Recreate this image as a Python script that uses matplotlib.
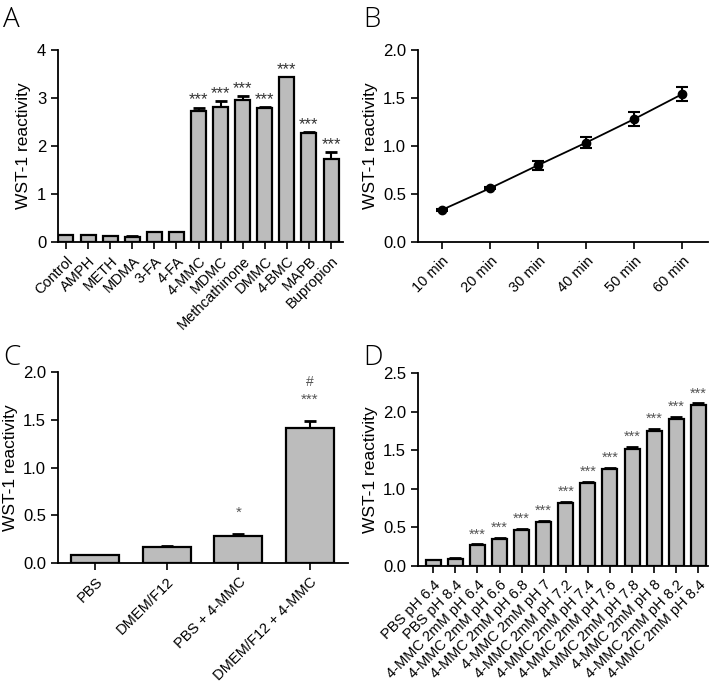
import numpy as np
import matplotlib.pyplot as plt

plt.rcParams['font.family'] = ['Liberation Sans', 'DejaVu Sans']

# Panel A
a_labels = ['Control', 'AMPH', 'METH', 'MDMA', '3-FA', '4-FA', '4-MMC', 'MDMC',
            'Methcathinone', 'DMMC', '4-BMC', 'MAPB', 'Bupropion']
a_values = [0.15, 0.15, 0.13, 0.11, 0.21, 0.21, 2.73, 2.81, 2.95, 2.79, 3.43, 2.28, 1.73]
a_errors = [0.005, 0.005, 0.005, 0.005, 0.005, 0.005, 0.07, 0.13, 0.09, 0.02, 0.01, 0.01, 0.14]
a_marks = ['', '', '', '', '', '', '***', '***', '***', '***', '***', '***', '***']

# Panel B
b_minutes = [10, 20, 30, 40, 50, 60]
b_labels = ['10 min', '20 min', '30 min', '40 min', '50 min', '60 min']
b_values = [0.335, 0.56, 0.80, 1.035, 1.28, 1.54]
b_errors = [0.01, 0.01, 0.045, 0.057, 0.07, 0.073]

# Panel C
c_labels = ['PBS', 'DMEM/F12', 'PBS + 4-MMC', 'DMEM/F12 + 4-MMC']
c_values = [0.08, 0.17, 0.28, 1.41]
c_errors = [0.003, 0.003, 0.02, 0.075]
c_marks = ['', '', '*', '***']

# Panel D
d_labels = ['PBS pH 6.4', 'PBS pH 8.4', '4-MMC 2mM pH 6.4', '4-MMC 2mM pH 6.6',
            '4-MMC 2mM pH 6.8', '4-MMC 2mM pH 7', '4-MMC 2mM pH 7.2', '4-MMC 2mM pH 7.4',
            '4-MMC 2mM pH 7.6', '4-MMC 2mM pH 7.8', '4-MMC 2mM pH 8', '4-MMC 2mM pH 8.2',
            '4-MMC 2mM pH 8.4']
d_values = [0.075, 0.095, 0.27, 0.355, 0.47, 0.57, 0.82, 1.075, 1.255, 1.52, 1.755, 1.91, 2.085]
d_errors = [0.005, 0.005, 0.01, 0.01, 0.01, 0.01, 0.015, 0.015, 0.02, 0.025, 0.025, 0.02, 0.02]
d_marks = ['', ''] + ['***'] * 11

BAR = '#bcbcbc'


def style_axes(ax):
    for s in ['top', 'right']:
        ax.spines[s].set_visible(False)
    for s in ['left', 'bottom']:
        ax.spines[s].set_linewidth(1.3)
    ax.tick_params(direction='out', length=5, width=1.2)
    ax.tick_params(axis='y', labelsize=12)
    ax.tick_params(axis='x', labelsize=10.5)
    ax.set_ylabel('WST-1 reactivity', fontsize=12.5)


def bars(ax, labels, values, errors, marks, width, star_off, star_col, star_size):
    x = np.arange(len(values))
    ax.bar(x, values, width=width, color=BAR, edgecolor='black', linewidth=1.6, zorder=2)
    ax.errorbar(x, values, yerr=[np.zeros(len(errors)), errors], fmt='none',
                ecolor='black', elinewidth=1.5, capsize=4, capthick=2, zorder=1)
    for xi, v, e, m in zip(x, values, errors, marks):
        if m:
            ax.text(xi, v + e + star_off, m, ha='center', va='bottom',
                    fontsize=star_size, color=star_col)
    ax.set_xticks(x)
    ax.set_xticklabels(labels, rotation=45, ha='right', rotation_mode='anchor')
    return x


fig = plt.figure(figsize=(7.2, 6.89), dpi=100)
H = 689.0
W = 720.0


def add_ax(l, r, t, b):
    return fig.add_axes([l / W, 1 - b / H, (r - l) / W, (b - t) / H])


# A
ax = add_ax(58, 343, 50, 242)
bars(ax, a_labels, a_values, a_errors, a_marks, 0.68, 0.0, '#333333', 12)
ax.set_xlim(-0.36, 12.54)
ax.set_ylim(0, 4)
ax.set_yticks([0, 1, 2, 3, 4])
style_axes(ax)

# B
ax = add_ax(418, 708, 50, 242)
ax.errorbar(b_minutes, b_values, yerr=b_errors, fmt='o-', color='black', ms=6,
            lw=1.3, elinewidth=1.5, capsize=4, capthick=1.5)
ax.set_xlim(5, 65.4)
ax.set_ylim(0, 2)
ax.set_yticks([0, 0.5, 1.0, 1.5, 2.0])
ax.set_yticklabels(['0.0', '0.5', '1.0', '1.5', '2.0'])
ax.set_xticks(b_minutes)
ax.set_xticklabels(b_labels, rotation=45, ha='right', rotation_mode='anchor')
style_axes(ax)

# C
ax = add_ax(58, 348, 372, 563)
bars(ax, c_labels, c_values, c_errors, c_marks, 0.67, 0.15, '#555555', 11)
ax.text(3, 1.82, '#', ha='center', va='bottom', fontsize=10, color='#555555')
ax.set_xlim(-0.52, 3.53)
ax.set_ylim(0, 2)
ax.set_yticks([0, 0.5, 1.0, 1.5, 2.0])
ax.set_yticklabels(['0.0', '0.5', '1.0', '1.5', '2.0'])
style_axes(ax)

# D
ax = add_ax(418, 708, 373, 566)
bars(ax, d_labels, d_values, d_errors, d_marks, 0.68, 0.04, '#555555', 10.5)
ax.set_xlim(-0.69, 12.44)
ax.set_ylim(0, 2.5)
ax.set_yticks([0, 0.5, 1.0, 1.5, 2.0, 2.5])
ax.set_yticklabels(['0.0', '0.5', '1.0', '1.5', '2.0', '2.5'])
style_axes(ax)

for lbl, (px, py) in zip('ABCD', [(3, 6), (363, 6), (3, 344), (363, 344)]):
    fig.text(px / W, 1 - py / H, lbl, fontsize=20, family='Open Sans',
             fontweight='light', ha='left', va='top')

fig.savefig('out.png', dpi=100)
